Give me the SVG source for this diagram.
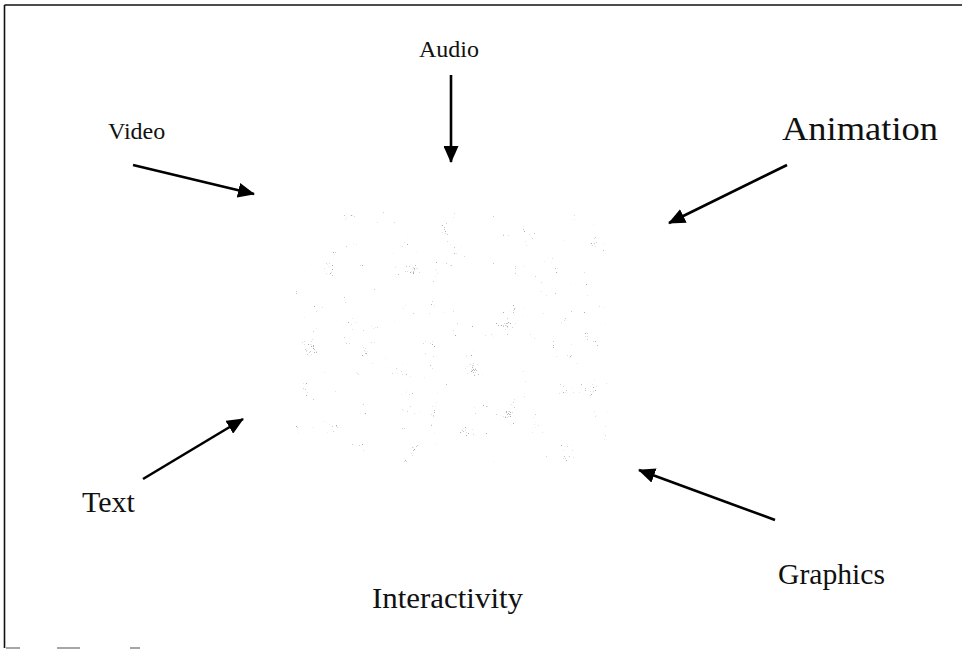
<svg xmlns="http://www.w3.org/2000/svg" width="962" height="650" viewBox="0 0 962 650">
  <style>
    .label { font-family: "Liberation Serif", "Times New Roman", serif; fill: #111; }
    .conn { stroke: #000; stroke-width: 2.6; fill: none; marker-end: url(#head); }
    .frame { stroke: #111; stroke-width: 1.6; fill: none; }
  </style>
  <defs>
    <marker id="head" viewBox="0 0 17 15" refX="16" refY="7.5" markerWidth="17" markerHeight="15" markerUnits="userSpaceOnUse" orient="auto">
      <path d="M0,0 L17,7.5 L0,15 Z" fill="#000"/>
    </marker>
    <!-- faint speckled halftone for the central picture -->
    <filter id="speckle" x="0" y="0" width="100%" height="100%" color-interpolation-filters="sRGB">
      <feTurbulence type="fractalNoise" baseFrequency="0.9" numOctaves="2" seed="7" result="fine"/>
      <feTurbulence type="fractalNoise" baseFrequency="0.05" numOctaves="2" seed="3" result="coarse"/>
      <feComposite in="fine" in2="coarse" operator="arithmetic" k1="0" k2="1" k3="0.8" k4="-0.4" result="mix"/>
      <feColorMatrix in="mix" type="matrix" values="0 0 0 0 0.68  0 0 0 0 0.68  0 0 0 0 0.68  9 0 0 0 -4.35"/>
    </filter>
    <clipPath id="blobClip">
      <rect x="296" y="212" width="312" height="250" rx="34" ry="34"/>
    </clipPath>
  </defs>

  <rect width="962" height="650" fill="#fff"/>

  <!-- page frame -->
  <g id="frame">
    <line class="frame" x1="4.5" y1="5" x2="962" y2="5"/>
    <line class="frame" x1="4.5" y1="5" x2="4.5" y2="648"/>
    <g stroke="#888" stroke-width="1.5">
      <line x1="6" y1="648" x2="20" y2="648"/>
      <line x1="57" y1="648" x2="80" y2="648"/>
      <line x1="130" y1="648" x2="140" y2="648"/>
    </g>
  </g>

  <!-- central picture, very faint -->
  <g id="center" clip-path="url(#blobClip)">
    <rect x="296" y="212" width="312" height="250" filter="url(#speckle)"/>
  </g>

  <g id="audio"><text class="label" x="449" y="57" font-size="24" text-anchor="middle">Audio</text></g>
  <g id="video"><text class="label" x="108" y="139" font-size="24">Video</text></g>
  <g id="animation"><text class="label" x="782" y="140" font-size="33" textLength="156" lengthAdjust="spacingAndGlyphs">Animation</text></g>
  <g id="text"><text class="label" x="82" y="512" font-size="30">Text</text></g>
  <g id="graphics"><text class="label" x="778" y="584" font-size="29" textLength="107" lengthAdjust="spacingAndGlyphs">Graphics</text></g>
  <g id="interactivity"><text class="label" x="372" y="608" font-size="29" textLength="151" lengthAdjust="spacingAndGlyphs">Interactivity</text></g>

  <g id="connectors">
    <line class="conn" x1="451" y1="75" x2="451" y2="162"/>
    <line class="conn" x1="133" y1="165" x2="254" y2="194"/>
    <line class="conn" x1="787" y1="165" x2="669" y2="223"/>
    <line class="conn" x1="143" y1="479" x2="243" y2="419"/>
    <line class="conn" x1="775" y1="520" x2="639" y2="470"/>
  </g>
</svg>
